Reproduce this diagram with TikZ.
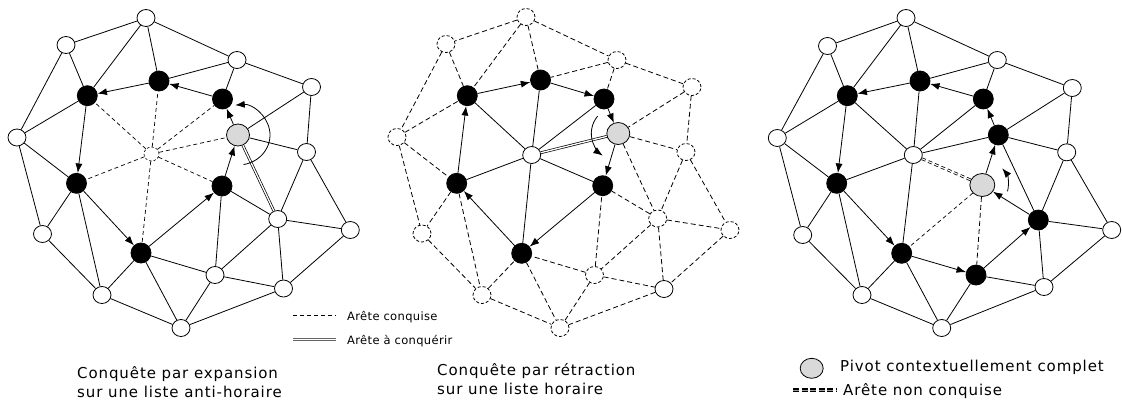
\documentclass[tikz,border=0pt]{standalone}
\usepackage{fontspec}
\setmainfont{DejaVu Sans}
\newfontfamily\capfont[LetterSpace=6]{DejaVu Sans}
\newfontfamily\legfont[LetterSpace=3]{DejaVu Sans}
\usetikzlibrary{arrows.meta,shapes.geometric,calc}
\begin{document}
\begin{tikzpicture}[x=1pt,y=-1pt,
  wn/.style={ellipse,draw,fill=white,minimum width=18pt,minimum height=17pt,inner sep=0pt,line width=0.8pt},
  dn/.style={wn,dash pattern=on 3pt off 2pt},
  ctrn/.style={ellipse,draw,fill=white,minimum width=15pt,minimum height=14pt,inner sep=0pt,line width=0.6pt,dash pattern=on 2.5pt off 2pt},
  bn/.style={circle,draw,fill=black,minimum size=20pt,inner sep=0pt,line width=0.8pt},
  gn/.style={ellipse,draw,fill=black!15,minimum width=23pt,minimum height=22pt,inner sep=0pt,line width=0.8pt},
  gnb/.style={ellipse,draw,fill=black!15,minimum width=25pt,minimum height=23pt,inner sep=0pt,line width=0.8pt},
  ed/.style={line width=0.8pt},
  de/.style={line width=0.7pt,dash pattern=on 4pt off 3pt},
  dd/.style={line width=0.8pt,dash pattern=on 5pt off 3pt},
  ar/.style={line width=0.8pt,-{Latex[length=9.5pt,width=7pt]}},
  dbl/.style={double=white,double distance=1.3pt,line width=0.7pt},
  ndbl/.style={double=white,double distance=1.1pt,line width=0.8pt,dash pattern=on 4pt off 3pt},
  legtxt/.style={anchor=base west,inner sep=0pt,font=\legfont\fontsize{11.5}{14}\selectfont},
  captxt/.style={anchor=base west,inner sep=0pt,font=\capfont\fontsize{15}{18}\selectfont},
]
\useasboundingbox (0,0) rectangle (1122,410);

% ---------------- Panel 1 ----------------
\begin{scope}
\foreach \n/\x/\y/\s in {A/146/18/wn, B/66/45/wn, C/237/60/wn, D/311.5/87/wn, E/17/137.5/wn,
  F/306.5/152/wn, G/42.5/234/wn, H/277.7/219/wn, I/350.3/230/wn, J/215/275/wn, K/283.5/288.5/wn,
  L/102/295/wn, M/181/328/wn, N1/87.3/95.7/bn, N2/159/81/bn, N3/222.5/99/bn, P/238/135/gn,
  N4/76.5/183.3/bn, N5/222/186/bn, N6/141/253/bn, O/151.5/154/ctrn}
  \node[\s] (u\n) at (\x,\y) {};
\foreach \a/\b in {A/B, A/C, A/N1, A/N2, B/N1, B/E, C/N2, C/N3, C/D, D/P, D/F, E/N1, E/N4, E/G,
  P/F, F/H, F/I, H/I, H/K, I/K, J/K, J/M, K/M, N4/G, N4/L, G/L, L/N6, L/M, N6/M,
  H/N5, H/J, J/N5, J/N6}
  \draw[ed] (u\a) -- (u\b);
\foreach \a/\b in {O/N1, O/N2, O/N3, O/P, O/N4, O/N5, O/N6}
  \draw[de] (u\a) -- (u\b);
\draw[dbl] (uP) -- (uH);
\foreach \a/\b in {N1/N4, N4/N6, N6/N5, N5/P, P/N3, N3/N2, N2/N1}
  \draw[ar] (u\a) -- (u\b);
\draw[ar] ([shift={(80:32 and 30)}]uP.center) arc[start angle=80,end angle=-95,x radius=32,y radius=30];
\end{scope}

% ---------------- Panel 2 ----------------
\begin{scope}[xshift=380pt]
\foreach \n/\x/\y/\s in {A/146/17/dn, B/66/44/dn, C/237/60/dn, D/312/87/dn, E/17/137/dn,
  F/306/152/dn, G/42/233.5/dn, H/277.7/218.5/dn, I/350/230/dn, J/214.5/275/dn, K/284/289/wn,
  L/102/295/dn, M/180/328/dn, N1/87.3/95.7/bn, N2/160.5/80/bn, N3/224/99/bn, P/238.3/133.5/gn,
  N4/76.7/183.3/bn, N5/222.7/185.7/bn, N6/141.7/253.3/bn, O/151.7/155/wn}
  \node[\s] (v\n) at (\x,\y) {};
\foreach \a/\b in {A/B, A/C, A/N1, A/N2, B/N1, B/E, C/N2, C/N3, C/D, D/P, D/F, E/N1, E/N4, E/G,
  P/F, F/H, F/I, H/I, H/K, I/K, J/K, J/M, K/M, N4/G, N4/L, G/L, L/N6, L/M, N6/M,
  H/N5, H/J, J/N5, J/N6, P/H}
  \draw[dd] (v\a) -- (v\b);
\foreach \a/\b in {O/N1, O/N2, O/N3, O/N4, O/N5, O/N6}
  \draw[ed] (v\a) -- (v\b);
\draw[dbl] (vO) -- (vP);
\foreach \a/\b in {N4/N1, N1/N2, N2/N3, N3/P, P/N5, N5/N6, N6/N4}
  \draw[ar] (v\a) -- (v\b);
\draw[ar] ([shift={(220:27)}]vP.center) arc[start angle=220,end angle=125,radius=27];
\end{scope}

% ---------------- Panel 3 ----------------
\begin{scope}[xshift=760pt]
\foreach \n/\x/\y/\s in {A/146/18/wn, B/67.5/46/wn, C/237.3/60/wn, D/312.3/88/wn, E/17.3/138/wn,
  F/306.7/152.3/wn, G/42.7/235/wn, H/278.3/220/bn, I/351.7/230/wn, J/216/275/bn, K/284/287/wn,
  L/102/295/wn, M/181.7/328/wn, N1/87.3/95.7/bn, N2/160/81/bn, N3/223.3/99/bn, P/238.3/135/bn,
  N4/76.7/183.3/bn, N5/222.3/185/gnb, N6/141.7/253.3/bn, O/153.3/155/wn}
  \node[\s] (w\n) at (\x,\y) {};
\foreach \a/\b in {A/B, A/C, A/N1, A/N2, B/N1, B/E, C/N2, C/N3, C/D, D/P, D/F, E/N1, E/N4, E/G,
  P/F, F/H, F/I, H/I, H/K, I/K, J/K, J/M, K/M, N4/G, N4/L, G/L, L/N6, L/M, N6/M, P/H,
  O/N1, O/N2, O/N3, O/P, O/N4, O/N6}
  \draw[ed] (w\a) -- (w\b);
\draw[de] (wN5) -- (wN6);
\draw[dd] (wN5) -- (wJ);
\draw[ndbl] (wO) -- (wN5);
\foreach \a/\b in {N1/N4, N4/N6, N6/J, J/H, H/N5, N5/P, P/N3, N3/N2, N2/N1}
  \draw[ar] (w\a) -- (w\b);
\draw[ar] ([shift={(14:26)}]wN5.center) arc[start angle=14,end angle=-40,radius=26];
\end{scope}

% ---------------- Legends ----------------
\coordinate (la1) at (293,315.5);
\coordinate (la2) at (336,315.5);
\draw[de] (la1) -- (la2);
\node[legtxt] (ta) at (347,320) {Arête conquise};
\coordinate (lb1) at (293,339.5);
\coordinate (lb2) at (336,339.5);
\draw[dbl,draw=black!60] (lb1) -- (lb2);
\node[legtxt] (tb) at (347,344) {Arête à conquérir};

\node[captxt] (c1a) at (77,378.8) {Conquête par expansion};
\node[captxt] (c1b) at (77,397.3) {sur une liste anti-horaire};
\node[captxt] (c2a) at (437,375.7) {Conquête par rétraction};
\node[captxt] (c2b) at (437,394.2) {sur une liste horaire};

\node[gn,minimum height=20pt] (lp) at (811.7,368.3) {};
\node[captxt] (tp) at (840,371) {Pivot contextuellement complet};
\coordinate (lc1) at (793,390);
\coordinate (lc2) at (836,390);
\draw[double=black!40,double distance=0.6pt,line width=1.4pt,dash pattern=on 6pt off 2.5pt] (lc1) -- (lc2);
\node[captxt] (tc) at (843,395) {Arête non conquise};
\end{tikzpicture}
\end{document}
